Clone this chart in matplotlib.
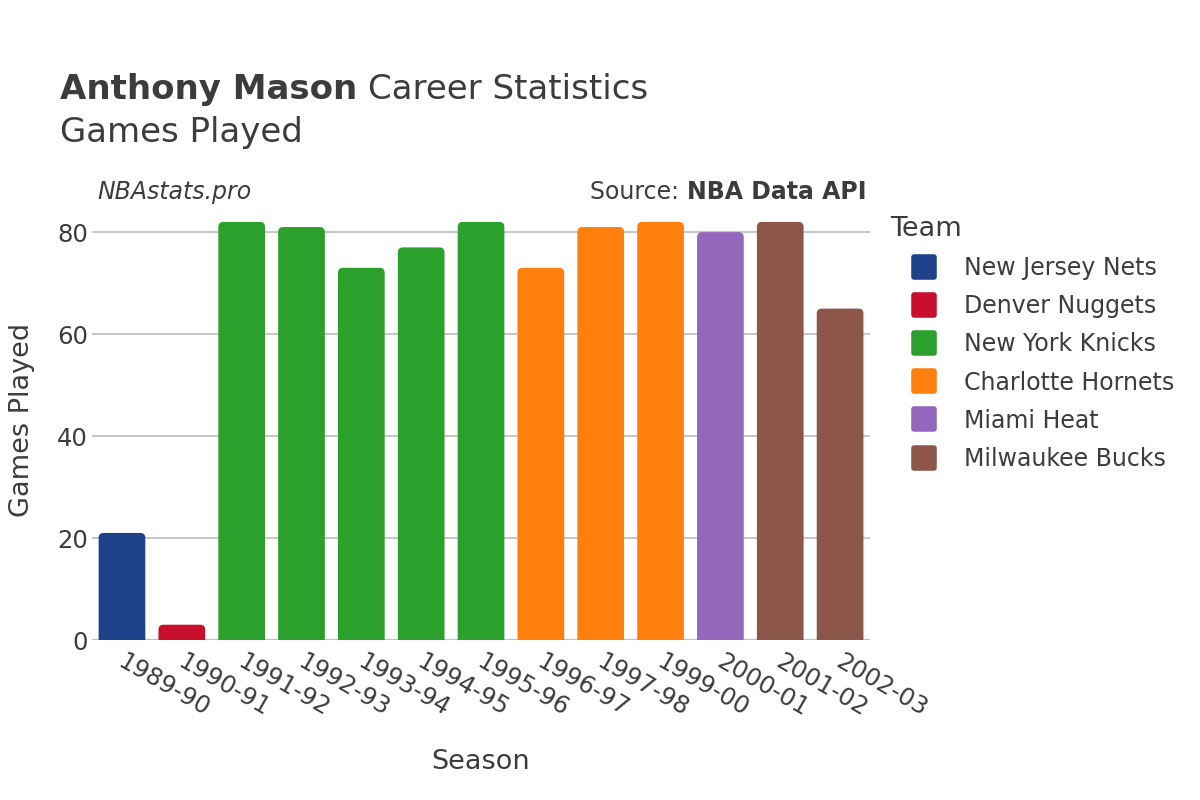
import matplotlib
matplotlib.use("Agg")
import matplotlib.pyplot as plt
from matplotlib.patches import FancyBboxPatch
from matplotlib.lines import Line2D
from matplotlib.markers import MarkerStyle
from matplotlib.transforms import ScaledTranslation

plt.rcParams["font.family"] = ["DejaVu Sans"]

seasons = ["1989-90", "1990-91", "1991-92", "1992-93", "1993-94", "1994-95", "1995-96",
           "1996-97", "1997-98", "1999-00", "2000-01", "2001-02", "2002-03"]
games = [21, 3, 82, 81, 73, 77, 82, 73, 81, 82, 80, 82, 65]
teams = ["New Jersey Nets", "Denver Nuggets", "New York Knicks", "New York Knicks", "New York Knicks",
         "New York Knicks", "New York Knicks", "Charlotte Hornets", "Charlotte Hornets",
         "Charlotte Hornets", "Miami Heat", "Milwaukee Bucks", "Milwaukee Bucks"]
team_order = ["New Jersey Nets", "Denver Nuggets", "New York Knicks", "Charlotte Hornets",
              "Miami Heat", "Milwaukee Bucks"]
team_colors = {"New Jersey Nets": "#1d428a", "Denver Nuggets": "#c8102e",
               "New York Knicks": "#2ca02c", "Charlotte Hornets": "#ff7f0e",
               "Miami Heat": "#9467bd", "Milwaukee Bucks": "#8c564b"}

TXT = "#3c3c3c"
fig = plt.figure(figsize=(12, 8), dpi=100)
ax = fig.add_axes([0.0767, 0.2, 0.6483, 0.55])

n = len(seasons)
ymax = 86.3
ax.set_xlim(-0.5, n - 0.5)
ax.set_ylim(0, ymax)

width = 0.78
px_x = 778 / n
px_y = 440 / ymax
r = 5 / px_x
aspect = px_x / px_y
for i, (s, g, t) in enumerate(zip(seasons, games, teams)):
    ext = r * aspect
    p = FancyBboxPatch((i - width / 2, -ext), width, g + ext,
                       boxstyle=f"round,pad=0,rounding_size={r}",
                       mutation_aspect=aspect, facecolor=team_colors[t],
                       edgecolor="none", zorder=3, clip_on=True)
    ax.add_patch(p)

ax.set_yticks([0, 20, 40, 60, 80])
ax.yaxis.grid(True, color="#b8b8b8", linewidth=1.1, zorder=0)
ax.axhline(0, color="#e5e5e5", linewidth=2.5, zorder=1)
for sp in ax.spines.values():
    sp.set_visible(False)
ax.tick_params(axis="both", length=0, labelsize=17.5, colors=TXT)
ax.tick_params(axis="y", pad=3)
ax.set_xticks(range(n))
ax.set_xticklabels(seasons, rotation=-30, ha="left", va="top", rotation_mode="anchor")
ax.tick_params(axis="x", pad=10)
off = ScaledTranslation(4 / 100, 4 / 100, fig.dpi_scale_trans)
for lab in ax.get_xticklabels():
    lab.set_transform(lab.get_transform() + off)

ax.set_xlabel("Season", fontsize=19.5, color=TXT, labelpad=20)
ax.set_ylabel("Games Played", fontsize=19.5, color=TXT, labelpad=16)

t1 = fig.text(0.05, 0.888, "Anthony Mason", fontsize=24.5, fontweight="bold", color=TXT, va="center")
fig.canvas.draw()
bb1 = t1.get_window_extent()
fig.text(bb1.x1 / 1200 + 0.009, 0.888, "Career Statistics", fontsize=24.5, color=TXT, va="center")
fig.text(0.05, 0.834, "Games Played", fontsize=24.5, color=TXT, va="center")
fig.text(0.081, 0.76, "NBAstats.pro", fontsize=17, style="italic", color=TXT, va="center")
src = fig.text(0.722, 0.76, "NBA Data API", fontsize=17, fontweight="bold", color=TXT,
               va="center", ha="right")
fig.canvas.draw()
bb = src.get_window_extent()
fig.text(bb.x0 / 1200, 0.76, "Source: ", fontsize=17, color=TXT, va="center", ha="right")

ms = MarkerStyle("s", joinstyle="round")
handles = [Line2D([0], [0], marker=ms, linestyle="none", markersize=14, markeredgewidth=4,
                  markerfacecolor=team_colors[t], markeredgecolor=team_colors[t]) for t in team_order]
leg = fig.legend(handles, team_order, loc="upper left", bbox_to_anchor=(0.7335, 0.742),
                 frameon=False, fontsize=17, title="Team", title_fontsize=19.5,
                 labelcolor=TXT, handletextpad=0.22, labelspacing=0.6, borderaxespad=0,
                 handlelength=2.95)
leg.get_title().set_color(TXT)
leg._legend_box.align = "left"

fig.savefig("out.png", dpi=100)
